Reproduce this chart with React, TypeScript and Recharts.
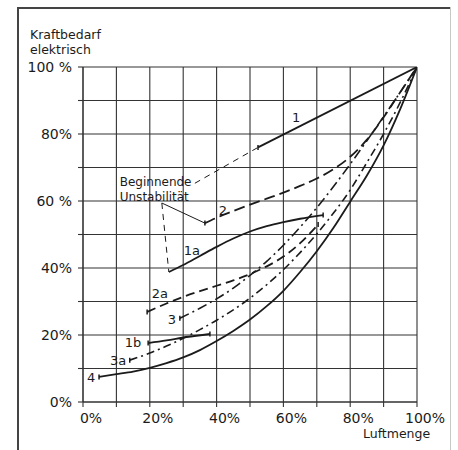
// Kraftbedarf über Luftmenge – Nachbau mit Recharts
import React from "react";
import { LineChart, Line, XAxis, YAxis, CartesianGrid, ReferenceDot } from "recharts";

// Achsenteilung (alle 10 %, beschriftet alle 20 %)
const gridTicks = [0, 10, 20, 30, 40, 50, 60, 70, 80, 90, 100];
const xTickLabels: Record<number, string> = { 0: "0%", 20: "20%", 40: "40%", 60: "60%", 80: "80%", 100: "100%" };
const yTickLabels: Record<number, string> = { 0: "0%", 20: "20%", 40: "40%", 60: "60 %", 80: "80%", 100: "100 %" };

// Kurven (x = Luftmenge %, y = Kraftbedarf %)
const curve1 = [
  { x: 52.4, y: 76 },
  { x: 100, y: 100 },
];
const curve1Dashed = [
  { x: 33.5, y: 65.3 },
  { x: 52.4, y: 76 },
];
const curve2 = [
  { x: 36.5, y: 53.4 }, { x: 40, y: 55 }, { x: 45, y: 57 }, { x: 50, y: 58.9 },
  { x: 55, y: 60.7 }, { x: 60, y: 62.5 }, { x: 65, y: 64.5 }, { x: 70, y: 66.7 },
  { x: 75, y: 69.5 }, { x: 80, y: 73.2 }, { x: 85, y: 78.3 }, { x: 90, y: 85 },
  { x: 95, y: 92.5 }, { x: 100, y: 100 },
];
const curve1a = [
  { x: 25.7, y: 38.8 }, { x: 30, y: 40.9 }, { x: 35, y: 43.6 }, { x: 40, y: 46.3 },
  { x: 45, y: 48.8 }, { x: 50, y: 50.9 }, { x: 55, y: 52.5 }, { x: 60, y: 53.7 },
  { x: 65, y: 54.7 }, { x: 71.9, y: 55.8 },
];
const curve2a = [
  { x: 19.2, y: 26.9 }, { x: 25, y: 29.4 }, { x: 30, y: 31.4 }, { x: 35, y: 33.1 },
  { x: 40, y: 34.7 }, { x: 45, y: 36.3 }, { x: 50, y: 38.2 }, { x: 55, y: 40.5 },
  { x: 60, y: 43.4 }, { x: 65, y: 47.4 }, { x: 70.4, y: 53 },
];
const curve3 = [
  { x: 29, y: 25 }, { x: 35, y: 28 }, { x: 40, y: 30.8 }, { x: 45, y: 34 },
  { x: 50, y: 37.8 }, { x: 55, y: 42 }, { x: 60, y: 46.8 }, { x: 65, y: 52.2 },
  { x: 70, y: 58 }, { x: 75, y: 64.3 }, { x: 80, y: 71 }, { x: 85, y: 78 },
  { x: 90, y: 85.2 }, { x: 95, y: 92.5 }, { x: 100, y: 100 },
];
const curve1b = [
  { x: 19.5, y: 17.6 }, { x: 25, y: 18.4 }, { x: 31, y: 19.4 }, { x: 38, y: 20.3 },
];
const curve3a = [
  { x: 14, y: 12.5 }, { x: 20, y: 14.6 }, { x: 25, y: 16.7 }, { x: 30, y: 19 },
  { x: 35, y: 21.6 }, { x: 40, y: 24.4 }, { x: 45, y: 27.5 }, { x: 50, y: 31 },
  { x: 55, y: 35 }, { x: 60, y: 39.5 }, { x: 65, y: 44.6 }, { x: 70, y: 50.2 },
  { x: 75, y: 56.4 }, { x: 80, y: 63.3 }, { x: 85, y: 71.5 }, { x: 90, y: 80 },
  { x: 95, y: 89.5 }, { x: 100, y: 100 },
];
const curve4 = [
  { x: 4.8, y: 7.5 }, { x: 10, y: 8.3 }, { x: 15, y: 9.1 }, { x: 20, y: 10.2 },
  { x: 25, y: 11.6 }, { x: 30, y: 13.3 }, { x: 35, y: 15.5 }, { x: 40, y: 18.2 },
  { x: 45, y: 21.2 }, { x: 50, y: 24.6 }, { x: 55, y: 28.6 }, { x: 60, y: 33.2 },
  { x: 65, y: 38.8 }, { x: 70, y: 45 }, { x: 75, y: 52 }, { x: 80, y: 59.8 },
  { x: 85, y: 67.6 }, { x: 90, y: 76.6 }, { x: 95, y: 87.5 }, { x: 100, y: 100 },
];
// Grenze "Beginnende Unstabilität"
const instabilitySolid = [
  { x: 23.6, y: 59.4 },
  { x: 36.5, y: 53.4 },
];
const instabilityDashed = [
  { x: 23.6, y: 59.4 },
  { x: 25.7, y: 38.8 },
];

// Kurvenbeschriftungen
const curveLabels = [
  { x: 63.8, y: 85.1, text: "1" },
  { x: 41.9, y: 57.3, text: "2" },
  { x: 32.6, y: 45.4, text: "1a" },
  { x: 23, y: 32.5, text: "2a" },
  { x: 26.6, y: 24.8, text: "3" },
  { x: 15, y: 17.9, text: "1b" },
  { x: 10.5, y: 12.5, text: "3a" },
  { x: 2.4, y: 7.2, text: "4" },
];

const INK = "#1b1b1b";
const FONT = "'DejaVu Sans', sans-serif";

// kleiner Endstrich an Kurvenanfang/-ende
const endMark = (indices: number[]) => (props: any) => {
  const { cx, cy, index } = props;
  if (!indices.includes(index) || cx == null) return <g key={index} />;
  return <line key={index} x1={cx} y1={cy - 2.5} x2={cx} y2={cy + 2.5} stroke={INK} strokeWidth={1.5} />;
};

const XTick = (props: any) => {
  const { x, y, payload } = props;
  const label = xTickLabels[payload.value];
  if (!label) return <g />;
  return (
    <text x={x + 8} y={y + 14} textAnchor="middle" fontSize={14} fill={INK} fontFamily={FONT}>
      {label}
    </text>
  );
};

const YTick = (props: any) => {
  const { x, y, payload } = props;
  const label = yTickLabels[payload.value];
  if (!label) return <g />;
  return (
    <text x={x - 4} y={y + 5} textAnchor="end" fontSize={14} fill={INK} fontFamily={FONT}>
      {label}
    </text>
  );
};

const App: React.FC = () => {
  return (
    <div style={{ position: "absolute", left: 0, top: 0, width: 458, height: 450, background: "#fff", fontFamily: FONT, color: INK, overflow: "hidden" }}>
      {/* Rahmen */}
      <div style={{ position: "absolute", left: 17, top: 7, width: 2, height: 443, background: "#444" }} />
      <div style={{ position: "absolute", left: 17, top: 7, width: 434, height: 2, background: "#444" }} />
      <div style={{ position: "absolute", left: 450, top: 7, width: 1, height: 443, background: "#c8c8c8" }} />
      <div style={{ position: "absolute", left: 30, top: 27, fontSize: 12.5, lineHeight: "15px" }}>
        Kraftbedarf
        <br />
        elektrisch
      </div>
      <div style={{ position: "absolute", left: 363, top: 426, fontSize: 12.5 }}>Luftmenge</div>
      <div style={{ position: "absolute", left: 0, top: 0 }}>
        <LineChart width={458} height={450} data={curve4} margin={{ top: 67, right: 41, left: 23, bottom: 18 }}>
          <CartesianGrid stroke="#333" strokeWidth={1.1} />
          <XAxis
            dataKey="x"
            type="number"
            domain={[0, 100]}
            ticks={gridTicks}
            interval={0}
            height={30}
            tick={<XTick />}
            tickSize={5}
            tickLine={{ stroke: "#333", strokeWidth: 1.1 }}
            axisLine={{ stroke: "#333", strokeWidth: 1.1 }}
            allowDataOverflow
          />
          <YAxis
            type="number"
            domain={[0, 100]}
            ticks={gridTicks}
            interval={0}
            width={60}
            tick={<YTick />}
            tickSize={5}
            tickLine={{ stroke: "#333", strokeWidth: 1.1 }}
            axisLine={{ stroke: "#333", strokeWidth: 1.1 }}
            allowDataOverflow
          />
          <Line data={curve1Dashed} dataKey="y" type="linear" stroke={INK} strokeWidth={1} strokeDasharray="6 5" dot={false} isAnimationActive={false} />
          <Line data={instabilitySolid} dataKey="y" type="linear" stroke={INK} strokeWidth={1} dot={false} isAnimationActive={false} />
          <Line data={instabilityDashed} dataKey="y" type="linear" stroke={INK} strokeWidth={1} strokeDasharray="6 5" dot={false} isAnimationActive={false} />
          <Line data={curve1} dataKey="y" type="linear" stroke={INK} strokeWidth={1.8} dot={endMark([0])} isAnimationActive={false} />
          <Line data={curve2} dataKey="y" type="monotone" stroke={INK} strokeWidth={1.8} strokeDasharray="11 5" dot={endMark([0])} isAnimationActive={false} />
          <Line data={curve1a} dataKey="y" type="monotone" stroke={INK} strokeWidth={1.8} dot={endMark([curve1a.length - 1])} isAnimationActive={false} />
          <Line data={curve2a} dataKey="y" type="monotone" stroke={INK} strokeWidth={1.8} strokeDasharray="9 5" dot={endMark([0, curve2a.length - 1])} isAnimationActive={false} />
          <Line data={curve3} dataKey="y" type="monotone" stroke={INK} strokeWidth={1.6} strokeDasharray="10 4 2 4" dot={endMark([0])} isAnimationActive={false} />
          <Line data={curve1b} dataKey="y" type="monotone" stroke={INK} strokeWidth={1.8} dot={endMark([0, curve1b.length - 1])} isAnimationActive={false} />
          <Line data={curve3a} dataKey="y" type="monotone" stroke={INK} strokeWidth={1.6} strokeDasharray="8 4 2 4" dot={endMark([0])} isAnimationActive={false} />
          <Line data={curve4} dataKey="y" type="monotone" stroke={INK} strokeWidth={1.8} dot={endMark([0])} isAnimationActive={false} />
          {curveLabels.map((l) => (
            <ReferenceDot
              key={l.text}
              x={l.x}
              y={l.y}
              r={0}
              ifOverflow="visible"
              label={{ value: l.text, position: "center", fontSize: 13, fill: INK, fontFamily: FONT }}
            />
          ))}
          <ReferenceDot x={11} y={65.7} r={0} ifOverflow="visible" label={{ value: "Beginnende", position: "right", offset: 0, fontSize: 12, fill: INK, fontFamily: FONT }} />
          <ReferenceDot x={11} y={61.3} r={0} ifOverflow="visible" label={{ value: "Unstabilität", position: "right", offset: 0, fontSize: 12, fill: INK, fontFamily: FONT }} />
        </LineChart>
      </div>
    </div>
  );
};

export default App;
